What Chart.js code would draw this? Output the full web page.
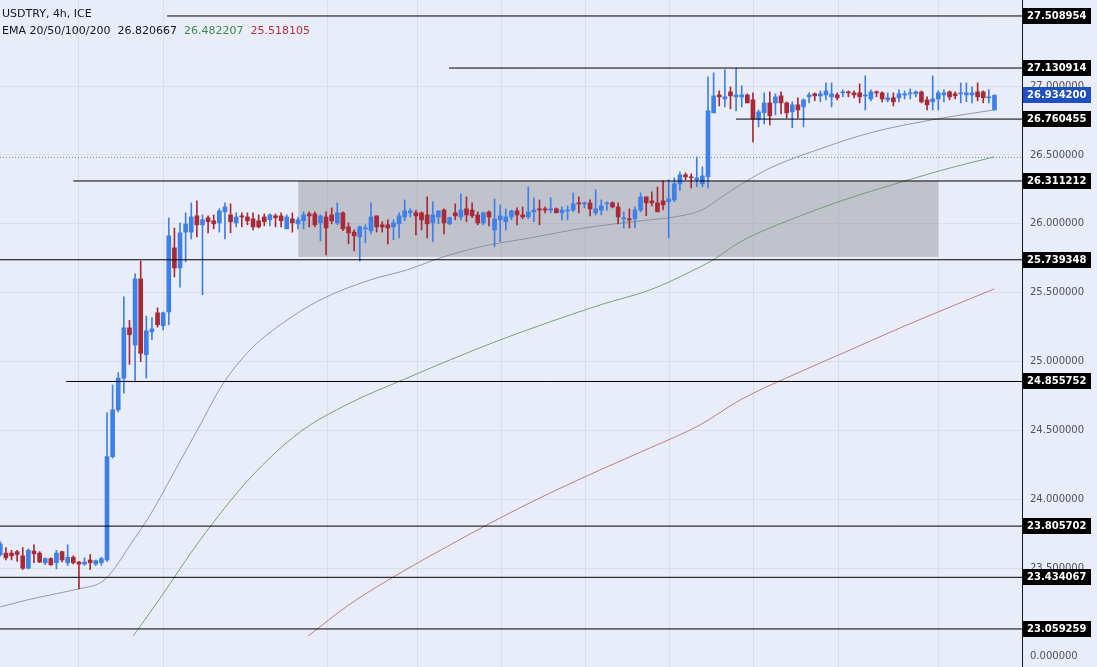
<!DOCTYPE html>
<html><head><meta charset="utf-8">
<script src="https://cdn.jsdelivr.net/npm/chart.js@4.4.1/dist/chart.umd.min.js"></script>
<style>
html,body{margin:0;padding:0;background:#e9edf9;}
#wrap{position:relative;width:1097px;height:667px;overflow:hidden;}
#legend{position:absolute;left:2px;top:5px;font:11px "DejaVu Sans",sans-serif;color:#131722;line-height:17px;pointer-events:none;white-space:nowrap;}
</style></head><body>
<div id="wrap"><canvas id="c"></canvas>
<div id="legend"><div>USDTRY, 4h, ICE</div><div>EMA 20/50/100/200&nbsp; <span>26.820667</span>&nbsp; <span style="color:#3f8a45">26.482207</span>&nbsp; <span style="color:#b2313b">25.518105</span></div></div>
</div>
<script>
// ---- data (USDTRY 4h candles, index = bar number) ----
const opens = [
23.597,23.61,23.61,23.62,23.59,23.50,23.625,23.61,23.54,23.57,
23.54,23.62,23.54,23.58,23.545,23.53,23.56,23.53,23.54,23.56,
24.31,24.65,24.88,25.245,25.12,25.60,25.05,25.216,25.354,25.26,
25.36,25.826,25.68,25.94,25.94,26.058,25.993,26.044,26.022,26.007,
26.087,26.065,26.007,26.058,26.05,26.036,26.022,26.05,26.029,26.058,
26.058,25.964,26.036,26.0,26.022,26.072,26.072,26.007,26.05,26.065,
26.007,26.08,25.978,25.94,25.906,25.964,25.95,26.058,25.993,25.993,
25.978,26.0,26.05,26.08,26.08,26.08,26.065,26.007,26.05,26.1,
26.0,26.08,26.05,26.109,26.1,26.065,26.007,26.087,25.956,26.029,
26.015,26.05,26.094,26.065,26.05,26.087,26.109,26.109,26.1,26.109,
26.08,26.094,26.1,26.152,26.145,26.152,26.08,26.1,26.145,26.152,
26.123,26.036,26.036,26.036,26.1,26.196,26.167,26.152,26.167,26.16,
26.174,26.29,26.356,26.341,26.32,26.29,26.341,26.806,26.936,26.907,
26.958,26.922,26.922,26.936,26.9,26.762,26.806,26.878,26.878,26.929,
26.878,26.813,26.864,26.849,26.922,26.944,26.929,26.936,26.922,26.936,
26.951,26.958,26.951,26.951,26.929,26.907,26.958,26.951,26.9,26.915,
26.915,26.936,26.944,26.944,26.958,26.9,26.886,26.907,26.936,26.958,
26.944,26.944,26.936,26.936,26.958,26.958,26.915,26.827];
const highs = [
23.691,23.65,23.63,23.63,23.65,23.64,23.67,23.62,23.575,23.575,
23.63,23.625,23.67,23.59,23.55,23.575,23.60,23.56,23.58,24.63,
24.83,24.92,25.47,25.30,25.637,25.73,25.33,25.32,25.39,25.36,
26.043,25.97,26.007,26.08,26.152,26.167,26.065,26.058,26.065,26.109,
26.152,26.145,26.08,26.08,26.08,26.08,26.065,26.072,26.072,26.072,
26.08,26.065,26.08,26.05,26.087,26.087,26.087,26.065,26.087,26.116,
26.152,26.087,26.007,25.956,25.985,25.993,26.152,26.058,26.015,26.029,
26.029,26.08,26.174,26.109,26.1,26.087,26.196,26.16,26.094,26.109,
26.05,26.145,26.218,26.196,26.152,26.087,26.087,26.094,26.181,26.138,
26.109,26.1,26.116,26.123,26.268,26.189,26.174,26.123,26.189,26.116,
26.123,26.13,26.225,26.196,26.16,26.174,26.247,26.174,26.16,26.16,
26.152,26.087,26.109,26.123,26.225,26.196,26.232,26.268,26.312,26.32,
26.334,26.377,26.37,26.363,26.486,26.414,27.067,27.096,26.965,27.118,
26.994,27.132,27.002,26.944,26.951,26.827,26.951,26.958,26.944,26.958,
26.886,26.886,26.915,26.907,26.951,26.951,26.965,27.023,27.023,26.951,
26.973,26.965,26.965,27.016,27.074,26.973,26.965,26.958,26.951,26.951,
26.973,26.965,26.98,26.965,26.965,26.922,27.074,26.965,26.973,26.965,
26.958,27.023,27.023,26.994,27.023,26.965,26.973,26.936];
const lows = [
23.59,23.56,23.56,23.55,23.49,23.495,23.54,23.54,23.525,23.52,
23.495,23.545,23.52,23.53,23.35,23.52,23.49,23.52,23.52,23.55,
24.30,24.635,24.77,24.98,24.853,25.00,24.88,25.16,25.25,25.23,
25.267,25.615,25.54,25.724,25.89,25.905,25.485,25.935,25.964,25.94,
25.89,25.935,25.978,25.978,25.993,25.956,25.97,25.985,25.985,25.978,
25.978,25.964,25.94,25.964,25.964,25.978,25.978,25.876,25.775,26.0,
25.993,25.95,25.855,25.804,25.73,25.862,25.927,25.94,25.94,25.855,
25.884,25.898,26.022,26.05,25.92,25.956,25.898,25.87,26.0,25.927,
25.993,26.029,26.029,26.015,26.044,25.993,25.993,25.985,25.833,25.87,
25.956,26.029,25.993,26.036,26.036,26.015,25.993,26.08,26.08,26.08,
26.029,26.029,26.087,26.08,26.116,26.058,26.065,26.065,26.1,26.116,
26.0,25.97,25.97,25.97,26.087,26.058,26.13,26.087,26.102,25.898,
26.16,26.24,26.32,26.261,26.269,26.269,26.261,26.806,26.856,26.849,
26.835,26.82,26.849,26.878,26.595,26.704,26.726,26.718,26.791,26.798,
26.769,26.697,26.769,26.704,26.878,26.893,26.886,26.9,26.849,26.9,
26.922,26.922,26.915,26.878,26.827,26.893,26.922,26.886,26.886,26.856,
26.886,26.907,26.907,26.922,26.878,26.827,26.827,26.827,26.886,26.9,
26.907,26.878,26.886,26.878,26.893,26.878,26.878,26.827];
const closes = [
23.677,23.575,23.59,23.60,23.50,23.63,23.605,23.545,23.57,23.525,
23.61,23.56,23.58,23.54,23.53,23.545,23.54,23.555,23.57,24.31,
24.65,24.88,25.245,25.195,25.60,25.06,25.223,25.237,25.267,25.354,
25.913,25.68,25.935,26.0,26.05,25.993,26.03,26.015,26.0,26.094,
26.123,26.015,26.05,26.05,26.022,25.978,25.978,26.015,26.065,26.044,
26.022,26.05,26.007,26.029,26.065,26.058,25.993,26.058,25.97,26.022,
26.08,25.964,25.935,25.913,25.978,25.97,26.05,25.978,25.978,25.97,
26.007,26.058,26.094,26.094,26.058,26.029,26.0,26.065,26.094,26.007,
26.044,26.058,26.1,26.065,26.058,26.007,26.08,26.05,26.036,26.058,
26.05,26.094,26.065,26.05,26.087,26.1,26.1,26.1,26.109,26.08,
26.1,26.1,26.145,26.145,26.152,26.109,26.109,26.13,26.152,26.123,
26.05,26.044,26.029,26.1,26.196,26.152,26.152,26.087,26.138,26.181,
26.29,26.356,26.341,26.334,26.334,26.348,26.82,26.929,26.922,26.922,
26.929,26.936,26.936,26.878,26.762,26.813,26.878,26.784,26.922,26.878,
26.806,26.864,26.827,26.9,26.936,26.929,26.944,26.965,26.944,26.915,
26.958,26.951,26.936,26.922,26.936,26.958,26.951,26.907,26.915,26.886,
26.944,26.944,26.951,26.958,26.886,26.864,26.907,26.951,26.951,26.922,
26.929,26.951,26.951,26.951,26.922,26.915,26.922,26.934];

// EMA curves read at sample bars: [bar, value]
const emaGray = [[0,23.219],[4.81,23.27],[13.89,23.35],[17.8,23.394],[19.58,23.459],[23.14,23.67],[26.7,23.888],[31.16,24.214],[35.6,24.541],[39.52,24.831],[44.5,25.085],[49.85,25.267],[56.97,25.448],[65.87,25.593],[72.46,25.666],[78.33,25.753],[85.45,25.833],[94.36,25.898],[104.15,25.971],[113.94,26.022],[120.17,26.051],[124.98,26.102],[128.18,26.189],[131.74,26.283],[137.08,26.406],[145.45,26.537],[154.89,26.661],[166.81,26.762],[176.96,26.827]];
const emaGreen = [[23.68,23.009],[28.49,23.285],[35.6,23.706],[44.5,24.156],[53.41,24.49],[62.31,24.70],[72.1,24.875],[80.11,25.013],[89.02,25.158],[97.92,25.289],[106.82,25.412],[115.72,25.521],[122.84,25.652],[126.94,25.739],[131.74,25.869],[142.43,26.058],[151.33,26.189],[161.12,26.312],[169.13,26.406],[176.96,26.486]];
const emaRed = [[54.83,23.009],[62.31,23.241],[71.21,23.466],[80.11,23.67],[89.02,23.866],[97.92,24.047],[106.82,24.214],[115.72,24.374],[124.62,24.541],[131.74,24.722],[142.43,24.926],[151.33,25.085],[160.23,25.245],[169.13,25.397],[176.96,25.528]];

// horizontal levels
const levelValues = [27.508954,27.130914,26.760455,26.311212,25.739348,24.855752,23.805702,23.434067,23.059259];
const levelLabels = ['27.508954','27.130914','26.760455','26.311212','25.739348','24.855752','23.805702','23.434067','23.059259'];
const levelStarts = [29.7,79.9,131.0,13.0,-0.05,11.75,-0.05,-0.05,-0.05];

const lastPrice = 26.9342, lastPriceLabel = '26.934200';
const ema50Last = 26.482207;
const zoneBars = [53.05, 167.0];
const zonePrices = [25.76, 26.311];

const yTickValues = [22.863,23.5,24.0,24.5,25.0,25.5,26.0,26.5,27.0];
const yTickLabels = ['0.000000','23.500000','24.000000','24.500000','25.000000','25.500000','26.000000','26.500000','27.000000'];
const dayBreaks = [13.89,29.02,58.22,74.24,89.19,104.15,119.1,134.06,149.19,167.0];

const X_MIN = -0.05, X_MAX = 181.9, Y_MIN = 22.783, Y_MAX = 27.625;
const UP = '#3f7fe8', DOWN = '#a82a36';
const BG = '#e9edf9', GRID = '#dadeea';

const candleColors = opens.map((o,i)=> closes[i] >= o ? UP : DOWN);

const datasets = [];
levelValues.forEach((v,i)=>{
  datasets.push({type:'line', data:[{x:levelStarts[i],y:v},{x:X_MAX,y:v}], borderColor:'#000', borderWidth:1,
    pointRadius:0, pointHoverRadius:0, order:0});
});
datasets.push({type:'line', data:[{x:X_MIN,y:ema50Last},{x:X_MAX,y:ema50Last}], borderColor:'rgba(80,150,90,0.9)', borderWidth:1, borderDash:[1,2], pointRadius:0, pointHoverRadius:0, order:5});
datasets.push({type:'line', data:emaGray.map(p=>({x:p[0],y:p[1]})), borderColor:'rgba(135,138,148,0.85)', borderWidth:1, pointRadius:0, pointHoverRadius:0, cubicInterpolationMode:'monotone', order:4});
datasets.push({type:'line', data:emaGreen.map(p=>({x:p[0],y:p[1]})), borderColor:'rgba(95,150,100,0.85)', borderWidth:1, pointRadius:0, pointHoverRadius:0, cubicInterpolationMode:'monotone', order:4});
datasets.push({type:'line', data:emaRed.map(p=>({x:p[0],y:p[1]})), borderColor:'rgba(185,105,105,0.85)', borderWidth:1, pointRadius:0, pointHoverRadius:0, cubicInterpolationMode:'monotone', order:4});
datasets.push({type:'bar', data:lows.map((l,i)=>({x:i,y:[l,highs[i]]})), backgroundColor:candleColors, barThickness:1, grouped:false, order:3});
datasets.push({type:'bar', data:opens.map((o,i)=>({x:i,y:[o,closes[i]]})), backgroundColor:candleColors, barThickness:4, minBarLength:1, grouped:false, order:2});

const bgPlugin = {id:'bg', beforeDraw(chart){const c=chart.ctx; c.save(); c.fillStyle=BG; c.fillRect(0,0,chart.width,chart.height); c.restore();}};
const zonePlugin = {id:'zone', beforeDatasetsDraw(chart){
  const xs=chart.scales.x, ys=chart.scales.y, c=chart.ctx;
  const x0=xs.getPixelForValue(zoneBars[0]), x1=xs.getPixelForValue(zoneBars[1]);
  const y0=ys.getPixelForValue(zonePrices[1]), y1=ys.getPixelForValue(zonePrices[0]);
  c.save(); c.fillStyle='rgba(125,125,132,0.38)'; c.fillRect(x0,y0,x1-x0,y1-y0); c.restore();
}};
const tagPlugin = {id:'tags', afterDraw(chart){
  const ys=chart.scales.y, c=chart.ctx;
  c.save(); c.font='bold 10px "DejaVu Sans", sans-serif'; c.textBaseline='middle'; c.textAlign='left';
  const draw=(v,label,bg)=>{const y=Math.round(ys.getPixelForValue(v)); c.fillStyle=bg; c.fillRect(ys.left+1,y-8,68,16); c.fillStyle='#fff'; c.fillText(label, ys.left+5, y+0.5);};
  levelValues.forEach((v,i)=>draw(v,levelLabels[i],'#000'));
  draw(lastPrice,lastPriceLabel,'#1f4fc0');
  c.restore();
}};

new Chart(document.getElementById('c'), {
  type:'bar',
  data:{datasets},
  plugins:[bgPlugin, zonePlugin, tagPlugin],
  options:{
    responsive:true, maintainAspectRatio:false, animation:false,
    layout:{padding:0, autoPadding:false},
    plugins:{legend:{display:false}, tooltip:{enabled:false}},
    scales:{
      x:{type:'linear', min:X_MIN, max:X_MAX, offset:false,
        grid:{color:GRID, drawTicks:false, offset:false}, border:{display:false}, ticks:{display:false},
        afterBuildTicks:s=>{s.ticks=dayBreaks.map(v=>({value:v}));},
        afterFit:s=>{s.height=0; s.paddingLeft=0; s.paddingRight=0;}},
      y:{position:'right', min:Y_MIN, max:Y_MAX,
        afterBuildTicks:s=>{s.ticks=yTickValues.map(v=>({value:v}));},
        afterFit:s=>{s.width=75; s.paddingTop=0; s.paddingBottom=0;},
        grid:{color:ctx=>(ctx.tick && ctx.tick.value<23)?'rgba(0,0,0,0)':GRID, drawTicks:false},
        border:{display:true, color:'#131722', width:1},
        ticks:{padding:8, color:'#50535e', autoSkip:false, font:{family:'DejaVu Sans', size:10}, callback:(v,i)=>yTickLabels[i]}}
    }
  }
});
</script>
</body></html>
